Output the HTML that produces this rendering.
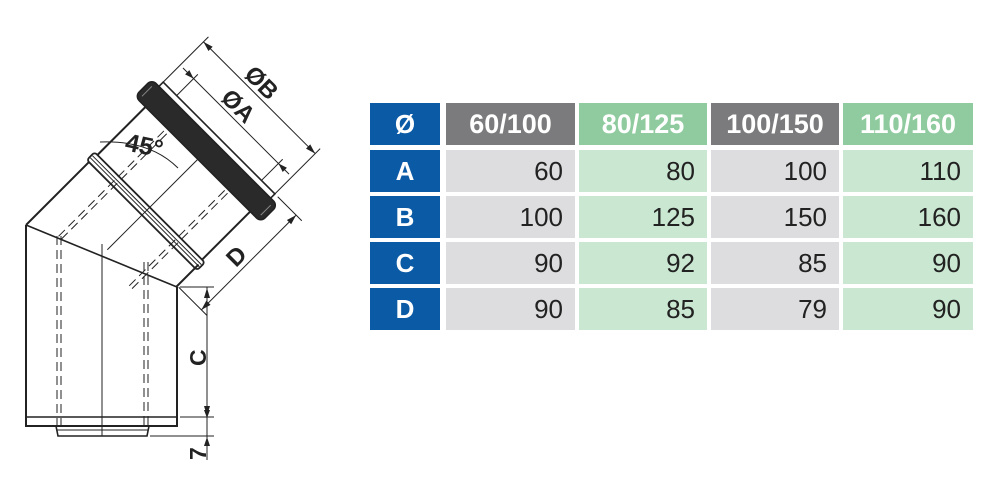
<!DOCTYPE html>
<html><head><meta charset="utf-8"><style>
body{margin:0;background:#fff;width:1000px;height:500px;overflow:hidden;position:relative;font-family:"Liberation Sans",sans-serif}
.c{position:absolute;box-sizing:border-box;font-size:26px;display:flex;align-items:center;justify-content:flex-end;padding-right:12px;color:#222}
.h{color:#fff;font-weight:bold;justify-content:center;padding:0;font-size:27px}
.b{background:#0b5aa6;color:#fff;font-weight:bold;justify-content:center;padding:0}
</style></head><body>
<svg width="340" height="470" style="position:absolute;left:0;top:0" viewBox="0 0 340 470" fill="none" stroke="#222" stroke-width="1.6" font-family="Liberation Sans" >
<path d="M26,225 L26,426 L177,426 L177,287" stroke-width="2"/>
<line x1="26" y1="417" x2="177" y2="417"/>
<path d="M56,426 L58,436 L147,436 L149,426"/>
<line x1="57" y1="430" x2="148" y2="430" stroke-width="1"/>
<g stroke-width="1" stroke-dasharray="9,5">
<line x1="57" y1="236" x2="57" y2="430"/><line x1="61" y1="236" x2="61" y2="430"/>
<line x1="144" y1="262" x2="144" y2="430"/><line x1="148" y1="262" x2="148" y2="430"/>
</g>
<line x1="102" y1="244" x2="102" y2="436" stroke-width="1"/>
<line x1="26" y1="225" x2="177" y2="287" stroke-width="1.6"/>
<g stroke-width="1">
<line x1="180" y1="287" x2="214" y2="287"/><line x1="180" y1="417" x2="214" y2="417"/>
<line x1="150" y1="436" x2="214" y2="436"/>
<line x1="207" y1="287" x2="207" y2="460"/>
</g>
<g fill="#222" stroke="none">
<path d="M207,288 l-3,10 h6z"/><path d="M207,416 l-3,-10 h6z"/><path d="M207,418 l-3,-8 h6z"/><path d="M207,437 l-3,9 h6z"/>
<text transform="translate(206,366) rotate(-90)" font-size="23" font-weight="bold">C</text>
<text transform="translate(206,460) rotate(-90)" font-size="23" font-weight="bold">7</text>
</g>
<g transform="translate(26,225) rotate(-45)">
<path d="M0,0 L89,0 M63,150 L94,150" stroke-width="2"/>
<rect x="89" y="-3" width="11" height="156" rx="3" stroke-width="1.8"/>
<line x1="93" y1="-2" x2="93" y2="152" stroke-width="1"/><line x1="96" y1="-2" x2="96" y2="152" stroke-width="1"/>
<path d="M100,1 L170,1 M100,149 L170,149" stroke-width="2"/>
<rect x="168" y="-14" width="24" height="178" rx="6" fill="#2a2a2a" stroke-width="1.6"/>
<path d="M173,-9 L187,-9 M173,159 L187,159" stroke="#888" stroke-width="1"/>
<rect x="192" y="-4" width="6" height="158" fill="#fff" stroke-width="1.6"/>
<g stroke-width="1" stroke-dasharray="9,5">
<line x1="15" y1="31" x2="168" y2="31"/><line x1="15" y1="35" x2="168" y2="35"/>
<line x1="30" y1="116" x2="168" y2="116"/><line x1="30" y1="120" x2="168" y2="120"/>
</g>
<line x1="40" y1="75" x2="168" y2="75" stroke-width="1"/>
<g stroke-width="1">
<line x1="198" y1="-4" x2="262" y2="-4"/><line x1="198" y1="154" x2="262" y2="154"/>
<line x1="198" y1="15" x2="228" y2="15"/><line x1="198" y1="135" x2="228" y2="135"/>
<line x1="255" y1="-4" x2="255" y2="154"/><line x1="222" y1="0" x2="222" y2="150"/>
<line x1="198" y1="158" x2="198" y2="192"/><line x1="64" y1="152" x2="64" y2="192"/>
<line x1="64" y1="184" x2="198" y2="184"/>
</g>
<g fill="#222" stroke="none">
<path d="M255,-4 l-3,10 h6z"/><path d="M255,154 l-3,-10 h6z"/>
<path d="M222,15 l-3,-9 h6z"/><path d="M222,135 l-3,9 h6z"/>
<path d="M64,184 l10,-3 v6z"/><path d="M198,184 l-10,-3 v6z"/>
<text transform="translate(259,48) rotate(90)" font-size="24" font-weight="bold">ØB</text>
<text transform="translate(226,48) rotate(90)" font-size="24" font-weight="bold">ØA</text>
<text x="118" y="179" font-size="24" font-weight="bold">D</text>
</g>
</g>
<path d="M100,142 Q150,140 178,168" stroke-width="1"/>
<text transform="translate(124,150) rotate(12)" font-size="25" font-weight="bold" fill="#222" stroke="none">45°</text>
</svg>

<div class="c b" style="left:370px;top:103px;width:70px;height:42px">Ø</div>
<div class="c h" style="left:446px;top:103px;width:129px;height:42px;background:#7b7b7d">60/100</div>
<div class="c h" style="left:579px;top:103px;width:128px;height:42px;background:#8fcb9e">80/125</div>
<div class="c h" style="left:711px;top:103px;width:128px;height:42px;background:#7b7b7d">100/150</div>
<div class="c h" style="left:843px;top:103px;width:130px;height:42px;background:#8fcb9e">110/160</div>

<div class="c b" style="left:370px;top:150px;width:70px;height:42px">A</div>
<div class="c" style="left:446px;top:150px;width:129px;height:42px;background:#dddddf">60</div>
<div class="c" style="left:579px;top:150px;width:128px;height:42px;background:#c9e7d1">80</div>
<div class="c" style="left:711px;top:150px;width:128px;height:42px;background:#dddddf">100</div>
<div class="c" style="left:843px;top:150px;width:130px;height:42px;background:#c9e7d1">110</div>

<div class="c b" style="left:370px;top:196px;width:70px;height:42px">B</div>
<div class="c" style="left:446px;top:196px;width:129px;height:42px;background:#dddddf">100</div>
<div class="c" style="left:579px;top:196px;width:128px;height:42px;background:#c9e7d1">125</div>
<div class="c" style="left:711px;top:196px;width:128px;height:42px;background:#dddddf">150</div>
<div class="c" style="left:843px;top:196px;width:130px;height:42px;background:#c9e7d1">160</div>

<div class="c b" style="left:370px;top:242px;width:70px;height:42px">C</div>
<div class="c" style="left:446px;top:242px;width:129px;height:42px;background:#dddddf">90</div>
<div class="c" style="left:579px;top:242px;width:128px;height:42px;background:#c9e7d1">92</div>
<div class="c" style="left:711px;top:242px;width:128px;height:42px;background:#dddddf">85</div>
<div class="c" style="left:843px;top:242px;width:130px;height:42px;background:#c9e7d1">90</div>

<div class="c b" style="left:370px;top:288px;width:70px;height:42px">D</div>
<div class="c" style="left:446px;top:288px;width:129px;height:42px;background:#dddddf">90</div>
<div class="c" style="left:579px;top:288px;width:128px;height:42px;background:#c9e7d1">85</div>
<div class="c" style="left:711px;top:288px;width:128px;height:42px;background:#dddddf">79</div>
<div class="c" style="left:843px;top:288px;width:130px;height:42px;background:#c9e7d1">90</div>
</body></html>
